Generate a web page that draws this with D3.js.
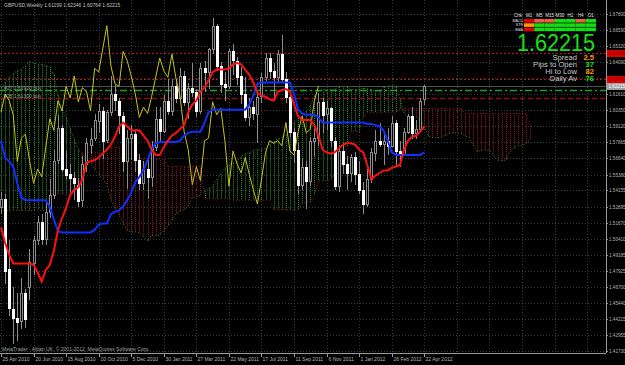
<!DOCTYPE html>
<html>
<head>
<meta charset="utf-8">
<script src="https://cdn.jsdelivr.net/npm/d3@7"></script>
<style>
  html, body { margin: 0; padding: 0; background: #000; overflow: hidden; }
  svg { display: block; }
</style>
</head>
<body>
<div id="chart"></div>
<script>
// GBPUSD Weekly - Ichimoku chart (MetaTrader look)

// bar data, one entry per week, starting 25 Apr 2010
const opens = [1.5290,1.5350,1.4810,1.4500,1.4430,1.4400,1.4620,1.4670,1.4850,1.5030,1.5170,1.5040,1.5250,1.5380,1.5650,1.5900,1.5580,1.5540,1.5510,1.5460,1.5340,1.5620,1.5760,1.5820,1.5950,1.6030,1.5800,1.6020,1.6160,1.6110,1.5990,1.5640,1.5820,1.5850,1.5650,1.5470,1.5580,1.5520,1.5750,1.5970,1.5880,1.6110,1.6030,1.6220,1.6130,1.6300,1.6100,1.6210,1.6180,1.6030,1.6360,1.6330,1.6510,1.6690,1.6380,1.6240,1.6220,1.6490,1.6420,1.6300,1.6160,1.5980,1.6060,1.6010,1.6140,1.6290,1.6440,1.6340,1.6290,1.6470,1.6280,1.6140,1.5870,1.5730,1.5460,1.5600,1.5490,1.5800,1.5820,1.6100,1.6000,1.6050,1.5800,1.5450,1.5720,1.5620,1.5550,1.5670,1.5540,1.5420,1.5310,1.5500,1.5710,1.5800,1.5780,1.5800,1.5760,1.5940,1.5720,1.5690,1.5870,1.5990,1.5860,1.5890,1.61199];
const highs = [1.5400,1.5390,1.5030,1.4670,1.4620,1.4740,1.4650,1.4960,1.5060,1.5220,1.5230,1.5330,1.5500,1.5730,1.6000,1.5920,1.5720,1.5620,1.5560,1.5510,1.5680,1.5820,1.5900,1.6010,1.6080,1.6060,1.6040,1.6300,1.6230,1.6130,1.6020,1.5880,1.5920,1.5880,1.5700,1.5640,1.5660,1.5800,1.6060,1.6060,1.6150,1.6280,1.6280,1.6280,1.6360,1.6340,1.6250,1.6400,1.6200,1.6400,1.6420,1.6520,1.6750,1.6700,1.6410,1.6330,1.6510,1.6550,1.6450,1.6370,1.6290,1.6130,1.6110,1.6170,1.6320,1.6480,1.6480,1.6400,1.6500,1.6620,1.6330,1.6160,1.5900,1.5780,1.5660,1.5640,1.5830,1.5890,1.6170,1.6130,1.6110,1.6060,1.5830,1.5770,1.5780,1.5680,1.5700,1.5710,1.5640,1.5480,1.5580,1.5740,1.5880,1.5940,1.5850,1.5900,1.5990,1.5960,1.5800,1.5900,1.6010,1.6060,1.5960,1.6130,1.62346];
const lows = [1.5230,1.4690,1.4440,1.4230,1.4250,1.4340,1.4350,1.4570,1.4760,1.4990,1.4990,1.4990,1.5200,1.5350,1.5620,1.5560,1.5500,1.5400,1.5340,1.5290,1.5290,1.5560,1.5700,1.5800,1.5860,1.5660,1.5780,1.5990,1.6030,1.5850,1.5560,1.5430,1.5650,1.5560,1.5420,1.5420,1.5350,1.5440,1.5720,1.5800,1.5860,1.6000,1.5990,1.6090,1.6120,1.6070,1.5970,1.6140,1.5980,1.6010,1.6180,1.6200,1.6470,1.6340,1.6170,1.6110,1.6200,1.6310,1.6230,1.6080,1.5950,1.5910,1.5960,1.5780,1.6090,1.6260,1.6280,1.6110,1.6250,1.6250,1.6090,1.5830,1.5630,1.5390,1.5420,1.5270,1.5450,1.5680,1.5760,1.5860,1.5880,1.5750,1.5420,1.5400,1.5540,1.5420,1.5480,1.5460,1.5390,1.5230,1.5290,1.5470,1.5640,1.5750,1.5610,1.5690,1.5750,1.5610,1.5600,1.5690,1.5850,1.5810,1.5810,1.5880,1.60764];
const closes = [1.5350,1.4790,1.4510,1.4430,1.4400,1.4620,1.4420,1.4860,1.5030,1.5170,1.5040,1.5250,1.5380,1.5640,1.5900,1.5580,1.5530,1.5510,1.5470,1.5340,1.5620,1.5780,1.5810,1.5960,1.6030,1.5800,1.6020,1.6160,1.6110,1.6000,1.5640,1.5820,1.5850,1.5650,1.5470,1.5580,1.5520,1.5750,1.5970,1.5880,1.6110,1.6030,1.6220,1.6130,1.6300,1.6100,1.6210,1.6180,1.6030,1.6360,1.6330,1.6510,1.6690,1.6380,1.6240,1.6220,1.6490,1.6420,1.6300,1.6160,1.5980,1.6060,1.6010,1.6140,1.6290,1.6440,1.6340,1.6290,1.6470,1.6280,1.6140,1.5870,1.5730,1.5460,1.5600,1.5490,1.5800,1.5820,1.6100,1.6000,1.6050,1.5800,1.5450,1.5720,1.5620,1.5550,1.5670,1.5540,1.5420,1.5310,1.5500,1.5710,1.5800,1.5780,1.5800,1.5760,1.5940,1.5720,1.5690,1.5870,1.5990,1.5860,1.5890,1.6110,1.62215];

// Tenkan-sen (red) and Kijun-sen (blue)
const tenkan = [1.513,1.501,1.492,1.485,1.485,1.485,1.485,1.485,1.484,1.478,1.471,1.480,1.484,1.495,1.511,1.520,1.528,1.538,1.542,1.544,1.550,1.563,1.564,1.565,1.567,1.570,1.573,1.577,1.583,1.591,1.594,1.591,1.588,1.588,1.588,1.584,1.580,1.573,1.569,1.569,1.575,1.580,1.584,1.586,1.589,1.592,1.602,1.608,1.611,1.618,1.621,1.627,1.633,1.635,1.635,1.635,1.636,1.639,1.640,1.639,1.635,1.631,1.625,1.617,1.615,1.614,1.612,1.611,1.618,1.619,1.620,1.618,1.608,1.599,1.596,1.596,1.596,1.592,1.584,1.573,1.571,1.570,1.571,1.574,1.577,1.578,1.578,1.577,1.573,1.571,1.561,1.550,1.553,1.555,1.557,1.557,1.559,1.560,1.561,1.573,1.580,1.583,1.584,1.587,1.591];
const kijun = [1.580,1.567,1.564,1.560,1.547,1.536,1.534,1.534,1.534,1.534,1.534,1.534,1.529,1.519,1.510,1.509,1.509,1.509,1.509,1.509,1.509,1.509,1.509,1.511,1.515,1.516,1.516,1.523,1.525,1.526,1.529,1.534,1.540,1.548,1.552,1.557,1.565,1.573,1.578,1.579,1.579,1.579,1.579,1.579,1.580,1.584,1.586,1.587,1.587,1.587,1.594,1.602,1.604,1.604,1.604,1.604,1.604,1.604,1.604,1.604,1.604,1.608,1.615,1.624,1.625,1.625,1.625,1.625,1.625,1.625,1.625,1.625,1.616,1.604,1.601,1.600,1.600,1.600,1.598,1.594,1.594,1.594,1.594,1.594,1.594,1.594,1.594,1.594,1.594,1.594,1.593,1.593,1.592,1.591,1.588,1.580,1.571,1.569,1.569,1.569,1.569,1.569,1.569,1.569,1.571];

// Senkou span A / B (cloud), 26 weeks ahead of the last bar
const spanA = [1.621,1.625,1.629,1.632,1.634,1.635,1.638,1.641,1.640,1.639,1.639,1.638,1.637,1.631,1.615,1.605,1.598,1.590,1.581,1.573,1.569,1.567,1.562,1.558,1.554,1.550,
  1.5465,1.534,1.528,1.5225,1.516,1.5105,1.5095,1.5095,1.509,1.506,1.5025,1.507,1.5065,1.507,1.5105,1.5145,1.5185,1.5235,1.5255,1.5265,1.5295,1.536,1.5365,1.538,1.541,1.543,1.5445,1.550,1.554,1.5585,1.5615,1.5625,1.564,1.568,1.570,1.5705,1.5725,1.573,1.5735,1.574,1.577,1.5795,1.5815,1.5825,1.5845,1.588,1.594,1.5975,1.599,1.6025,1.6075,1.6145,1.6185,1.6195,1.6195,1.6195,1.620,1.6215,1.622,1.6215,1.6195,1.6195,1.620,1.6205,1.620,1.6195,1.6185,1.618,1.6215,1.622,1.6225,1.6215,1.612,1.6015,1.5985,1.598,1.598,1.596,1.591,1.5835,1.5825,1.582,1.5825,1.584,1.5855,1.586,1.586,1.5855,1.5835,1.5825,1.577,1.5715,1.5725,1.573,1.5725,1.5685,1.565,1.5645,1.565,1.571,1.5745,1.576,1.5765,1.578,1.581];
const spanB = [1.526,1.526,1.526,1.526,1.526,1.526,1.526,1.526,1.526,1.526,1.526,1.526,
  1.539,1.539,1.539,1.539,1.539,1.539,1.539,1.539,
  1.571,1.571,1.571,1.571,1.571,1.571,1.571,
  1.575,1.575,1.575,1.575,1.575,1.575,1.575,
  1.566,1.566,1.566,1.566,1.566,1.566,1.566,
  1.560,1.560,1.560,1.560,1.560,1.560,1.560,1.560,1.560,
  1.535,1.535,1.535,1.535,1.535,1.535,1.535,
  1.534,1.534,1.534,1.534,1.534,1.534,1.534,1.534,1.534,1.534,
  1.5265,1.5265,1.5265,1.5265,1.5265,1.5265,1.5265,
  1.5315,1.5325,1.5325,1.5375,1.549,1.549,1.549,1.550,1.5545,1.5545,1.566,1.5755,1.587,1.587,1.587,1.5975,
  1.602,1.602,1.602,1.602,1.602,1.602,1.602,1.602,
  1.605,1.605,1.605,1.605,1.605,1.605,1.605,1.605,1.605,1.605,1.605,1.605,1.605,1.605,1.605,1.605,
  1.601,1.601,1.601,1.601,1.601,1.601,1.601,1.601,1.601,1.601,1.601,1.601,1.601,1.601,1.601,1.601,
  1.5925];

const chikouShift = 26;

// axis labels
const dateLabels = ['25 Apr 2010','20 Jun 2010','15 Aug 2010','10 Oct 2010','5 Dec 2010','30 Jan 2011','27 Mar 2011','22 May 2011','17 Jul 2011','11 Sep 2011','6 Nov 2011','1 Jan 2012','26 Feb 2012','22 Apr 2012'];
const dateBars = [0,8,16,24,32,40,48,56,64,72,80,88,96,104];
const priceTicks = [1.67800,1.66590,1.65320,1.64090,1.62835,1.61610,1.60350,1.59120,1.57865,1.56640,1.55380,1.54155,1.52895,1.51670,1.50410,1.49185,1.47925,1.46700,1.45440,1.44215,1.42955,1.41730];

// horizontal levels: two alert lines, two open orders, current bid
const alertLevels = [1.6478, 1.6277];
const orderLevels = [1.6192, 1.6130];
const orderLabels = ['#27 1.61920 buy', '#28 1.61300 buy'];
const bid = 1.62215;
const bar = {open: 1.61199, high: 1.62346, low: 1.60764, close: 1.62215};

// info panel (top right)
const panelCols = ['M1','M5','M15','M30','H1','H4','D1'];
const panelRows = ['MACD','STR','EMA'];
const panelState = [            // 1 = up, 0 = weak, -1 = down, 2 = neutral
  [-1, 0, 0, 1, 1, 0, 1],
  [ 2, 1, 1, 1, 1, 1, 1],
  [-1, 1, 1, 1, 1, 1, 1]
];
const statNames = ['Spread','Pips to Open','Hi to Low','Daily Av'];
const statValues = ['2.5','37','82','76'];

class IchimokuChart {
  constructor() {
    this.width = 625;
    this.height = 365;
    this.plotRight = 606;
    this.plotBottom = 353;
    this.font = 'Liberation Sans, Arial, sans-serif';
    this.init();
  }

  init() {
    this.svg = d3.select('#chart').append('svg')
      .attr('width', this.width)
      .attr('height', this.height)
      .style('background', '#000');

    this.x = d3.scaleLinear().domain([0, 104]).range([1, 424.3]);
    this.y = d3.scaleLinear().domain([1.41730, 1.67800]).range([351, 14]);

    this.svg.append('clipPath').attr('id', 'plot-clip')
      .append('rect')
      .attr('x', 0).attr('y', 0)
      .attr('width', this.plotRight).attr('height', this.plotBottom);

    this.plot = this.svg.append('g').attr('clip-path', 'url(#plot-clip)');

    this.drawGrid();
    this.drawCloud();
    this.drawLevels();
    this.drawCandles();
    this.drawLines();
    this.drawAxes();
    this.drawTexts();
    this.drawPanel();
  }

  drawGrid() {
    const g = this.plot.append('g').attr('class', 'grid');
    g.selectAll('.hgrid')
      .data(priceTicks)
      .join('line')
      .attr('x1', 0).attr('x2', this.plotRight)
      .attr('y1', d => Math.round(this.y(d)) + 0.5)
      .attr('y2', d => Math.round(this.y(d)) + 0.5)
      .style('stroke', '#2e4040')
      .style('stroke-dasharray', '1,2');

    // vertical grid keeps the 8-week step past the last bar
    const steps = d3.range(0, 150, 8);
    g.selectAll('.vgrid')
      .data(steps)
      .join('line')
      .attr('x1', d => Math.round(this.x(d)) + 0.5)
      .attr('x2', d => Math.round(this.x(d)) + 0.5)
      .attr('y1', 0).attr('y2', this.plotBottom)
      .style('stroke', '#2e4040')
      .style('stroke-dasharray', '1,2');
  }

  drawCloud() {
    const g = this.plot.append('g').attr('class', 'cloud');
    const idx = d3.range(Math.min(spanA.length, spanB.length));

    g.selectAll('.kumo')
      .data(idx)
      .join('line')
      .attr('x1', i => Math.round(this.x(i)) + 0.5)
      .attr('x2', i => Math.round(this.x(i)) + 0.5)
      .attr('y1', i => this.y(spanA[i]))
      .attr('y2', i => this.y(spanB[i]))
      .style('stroke', i => spanA[i] >= spanB[i] ? '#2a922a' : '#a01818')
      .style('stroke-width', 1)
      .style('stroke-dasharray', '1,1');

    const line = (arr) => d3.line()
      .x((d, i) => this.x(i))
      .y(d => this.y(d))(arr);

    g.append('path').attr('d', line(spanA))
      .style('fill', 'none').style('stroke', '#2f8f2f')
      .style('stroke-width', 1).style('stroke-dasharray', '1,2');
    g.append('path').attr('d', line(spanB))
      .style('fill', 'none').style('stroke', '#9a1c1c')
      .style('stroke-width', 1).style('stroke-dasharray', '1,2');
  }

  drawLevels() {
    const g = this.plot.append('g').attr('class', 'levels');
    const yy = v => Math.round(this.y(v)) + 0.5;

    g.selectAll('.alert')
      .data(alertLevels)
      .join('line')
      .attr('x1', 0).attr('x2', this.plotRight)
      .attr('y1', yy).attr('y2', yy)
      .style('stroke', '#c01414')
      .style('stroke-dasharray', '2,2');

    g.append('line')
      .attr('x1', 0).attr('x2', this.plotRight)
      .attr('y1', yy(bid)).attr('y2', yy(bid))
      .style('stroke', '#505050');

    const orderStyle = [
      {color: '#1fa01f', dash: '7,3,2,3'},
      {color: '#8c1010', dash: '5,3'}
    ];
    g.selectAll('.order')
      .data(orderLevels)
      .join('line')
      .attr('x1', 0).attr('x2', this.plotRight)
      .attr('y1', yy).attr('y2', yy)
      .style('stroke', (d, i) => orderStyle[i].color)
      .style('stroke-width', 1.4)
      .style('stroke-dasharray', (d, i) => orderStyle[i].dash);

    g.selectAll('.order-label')
      .data(orderLevels)
      .join('text')
      .attr('x', 4)
      .attr('y', d => yy(d) - 1)
      .style('font-family', this.font)
      .style('font-size', '5px')
      .style('fill', '#9aa0a0')
      .text((d, i) => orderLabels[i]);
  }

  drawCandles() {
    const g = this.plot.append('g').attr('class', 'candles')
      .style('shape-rendering', 'crispEdges');
    const bars = d3.range(opens.length);

    g.selectAll('.wick')
      .data(bars)
      .join('line')
      .attr('x1', i => Math.round(this.x(i)) + 0.5)
      .attr('x2', i => Math.round(this.x(i)) + 0.5)
      .attr('y1', i => this.y(highs[i]))
      .attr('y2', i => this.y(lows[i]))
      .style('stroke', '#8c8c8c');

    g.selectAll('.body')
      .data(bars)
      .join('rect')
      .attr('x', i => Math.round(this.x(i)) - 0.5)
      .attr('width', 2)
      .attr('y', i => Math.round(this.y(Math.max(opens[i], closes[i]))) + 0.5)
      .attr('height', i => Math.max(1, Math.round(Math.abs(this.y(opens[i]) - this.y(closes[i])))))
      .style('fill', i => closes[i] >= opens[i] ? '#000' : '#fff')
      .style('stroke', i => closes[i] >= opens[i] ? '#8c8c8c' : '#fff');
  }

  drawLines() {
    const g = this.plot.append('g').attr('class', 'lines');
    const line = d3.line()
      .x(d => this.x(d[0]))
      .y(d => this.y(d[1]));

    // chikou: close drawn 26 bars back
    const chikou = closes.slice(chikouShift).map((c, i) => [i, c]);
    g.append('path').attr('d', line(chikou))
      .style('fill', 'none').style('stroke', '#c8c21e').style('stroke-width', 1);

    g.append('path').attr('d', line(kijun.map((v, i) => [i, v])))
      .style('fill', 'none').style('stroke', '#1030ff').style('stroke-width', 2);

    g.append('path').attr('d', line(tenkan.map((v, i) => [i, v])))
      .style('fill', 'none').style('stroke', '#ff1010').style('stroke-width', 2);
  }

  drawAxes() {
    const g = this.svg.append('g').attr('class', 'axes')
      .style('font-family', this.font)
      .style('font-size', '4.6px');

    // frame
    g.append('line')
      .attr('x1', this.plotRight + 0.5).attr('x2', this.plotRight + 0.5)
      .attr('y1', 0).attr('y2', this.plotBottom)
      .style('stroke', '#9a9a9a');
    g.append('line')
      .attr('x1', 0).attr('x2', this.plotRight)
      .attr('y1', this.plotBottom + 0.5).attr('y2', this.plotBottom + 0.5)
      .style('stroke', '#9a9a9a');

    // price axis
    const ticks = g.selectAll('.ptick')
      .data(priceTicks)
      .join('g')
      .attr('transform', d => `translate(${this.plotRight}, ${Math.round(this.y(d)) + 0.5})`);
    ticks.append('line').attr('x1', 0).attr('x2', 2).style('stroke', '#9a9a9a');
    ticks.append('text')
      .attr('x', 3).attr('y', 1.8)
      .style('fill', '#b4b4b4')
      .text(d => d.toFixed(5));

    // level tags on the price axis
    const tags = [
      {v: alertLevels[0], fill: '#e00000', color: '#6a0000'},
      {v: alertLevels[1], fill: '#e00000', color: '#6a0000'},
      {v: bid, fill: '#a0a0a0', color: '#ffffff'}
    ];
    const tg = g.selectAll('.tag')
      .data(tags)
      .join('g')
      .attr('transform', d => `translate(${this.plotRight + 1}, ${Math.round(this.y(d.v))})`);
    tg.append('rect')
      .attr('x', 0).attr('y', -3).attr('width', 18).attr('height', 7)
      .style('fill', d => d.fill);
    tg.append('text')
      .attr('x', 1.5).attr('y', 2.2)
      .style('fill', d => d.color)
      .text(d => d.v.toFixed(5));

    // time axis
    const dt = g.selectAll('.dtick')
      .data(dateBars)
      .join('g')
      .attr('transform', d => `translate(${Math.round(this.x(d)) + 0.5}, ${this.plotBottom})`);
    dt.append('line').attr('y1', 0).attr('y2', 4).style('stroke', '#9a9a9a');
    dt.append('text')
      .attr('x', 1).attr('y', 8)
      .style('font-size', '5px')
      .style('fill', '#b4b4b4')
      .text((d, i) => dateLabels[i]);
  }

  drawTexts() {
    this.svg.append('text')
      .attr('x', 4).attr('y', 7)
      .style('font-family', this.font)
      .style('font-size', '5px')
      .style('fill', '#c0c0c0')
      .text(`GBPUSD,Weekly  ${bar.open.toFixed(5)} ${bar.high.toFixed(5)} ${bar.low.toFixed(5)} ${bar.close.toFixed(5)}`);

    this.svg.append('text')
      .attr('x', 2).attr('y', 351)
      .style('font-family', this.font)
      .style('font-size', '5px')
      .style('fill', '#a0a0a0')
      .text('MetaTrader - Alpari UK, \u00a9 2001-2012, MetaQuotes Software Corp.');
  }

  drawPanel() {
    const g = this.svg.append('g').attr('class', 'panel')
      .style('font-family', this.font);
    const colX = d3.scaleBand().domain(panelCols).range([524, 596]);
    const stateColor = {'1': '#10e010', '0': '#f05a46', '-1': '#e00000', '2': '#ff9a00'};

    g.selectAll('.col')
      .data(panelCols)
      .join('text')
      .attr('x', d => colX(d) + colX.bandwidth() / 2)
      .attr('y', 17)
      .attr('text-anchor', 'middle')
      .style('font-size', '4.5px')
      .style('fill', '#e0e0e0')
      .text(d => d);
    g.append('text')
      .attr('x', 518).attr('y', 17)
      .attr('text-anchor', 'middle')
      .style('font-size', '4.5px')
      .style('fill', '#e0e0e0')
      .text('Chk');

    panelRows.forEach((row, r) => {
      const y0 = 19 + r * 4.3;
      g.append('text')
        .attr('x', 523).attr('y', y0 + 3)
        .attr('text-anchor', 'end')
        .style('font-size', '3.6px')
        .style('fill', '#e0e0e0')
        .text(row);
      g.selectAll(`.cell-${r}`)
        .data(panelState[r])
        .join('rect')
        .attr('x', (d, i) => colX(panelCols[i]))
        .attr('y', y0)
        .attr('width', colX.bandwidth())
        .attr('height', 3.6)
        .style('fill', d => stateColor[d]);
    });

    g.append('text')
      .attr('x', 595).attr('y', 51)
      .attr('text-anchor', 'end')
      .attr('textLength', 78)
      .attr('lengthAdjust', 'spacingAndGlyphs')
      .style('font-size', '24px')
      .style('fill', '#18e018')
      .text(bid.toFixed(5));

    const statY = [59.5, 66.5, 74, 81];
    const valColor = ['#ff9a00', '#18e018', '#ff9a00', '#18e018'];
    statNames.forEach((name, i) => {
      g.append('text')
        .attr('x', 577).attr('y', statY[i])
        .attr('text-anchor', 'end')
        .style('font-size', '7.6px')
        .style('fill', '#c8c8c8')
        .text(name);
      g.append('text')
        .attr('x', 594).attr('y', statY[i])
        .attr('text-anchor', 'end')
        .style('font-size', '7.6px')
        .style('font-weight', 'bold')
        .style('fill', valColor[i])
        .text(statValues[i]);
    });
  }
}

new IchimokuChart();
</script>
</body>
</html>
